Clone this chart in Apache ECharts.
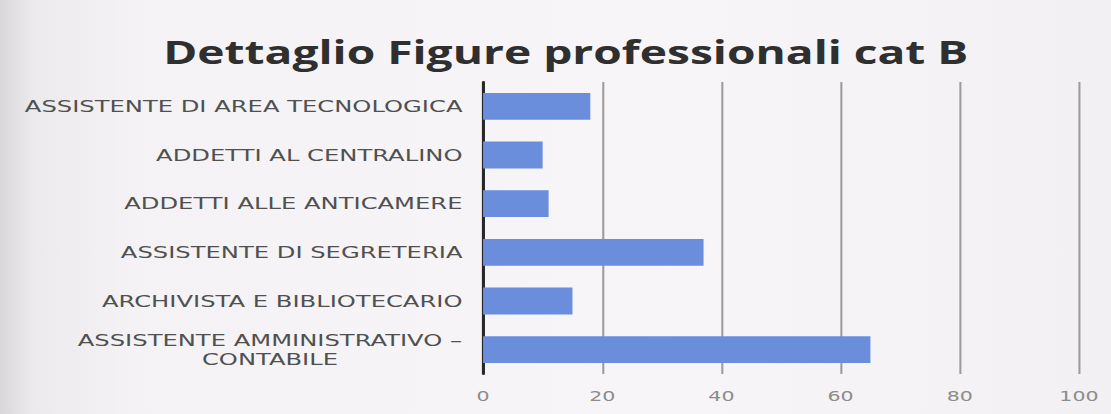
<!DOCTYPE html>
<html>
<head>
<meta charset="utf-8">
<script src="https://cdn.jsdelivr.net/npm/echarts@6/dist/echarts.min.js"></script>
<style>
html,body{margin:0;padding:0;overflow:hidden;background:#f5f3f5;}
#c{width:756px;height:414px;transform:scaleX(1.4696);transform-origin:0 0;}
</style>
</head>
<body>
<div id="c"></div>
<script>
const titleText = 'Dettaglio Figure professionali cat B';
const categories = [
  'ASSISTENTE AMMINISTRATIVO –\nCONTABILE',
  'ARCHIVISTA E BIBLIOTECARIO',
  'ASSISTENTE DI SEGRETERIA',
  'ADDETTI ALLE ANTICAMERE',
  'ADDETTI AL CENTRALINO',
  'ASSISTENTE DI AREA TECNOLOGICA'
];
const values = [65, 15, 37, 11, 10, 18];
const xTicks = { min: 0, max: 100, interval: 20 };

// The reference photo is stretched horizontally; the chart is laid out
// in a narrower box and stretched back to 1111px by CSS.
const LABEL_FONT = '16.5px "DejaVu Sans"';
const TITLE_FONT = 'bold 31.4px "Open Sans"';
const mctx = document.createElement('canvas').getContext('2d');
function textWidth(font, s) { mctx.font = font; return mctx.measureText(s).width; }

const titleW = textWidth(TITLE_FONT, titleText);

// width of the widest line of the multi-line labels (lines centred in that box)
let multiW = 0;
categories.forEach(c => {
  const ls = c.split('\n');
  if (ls.length > 1) ls.forEach(l => { multiW = Math.max(multiW, textWidth(LABEL_FONT, l)); });
});
multiW = Math.ceil(multiW);

function labelFormatter(v) {
  const lines = v.split('\n');
  if (lines.length === 1) return v;
  return lines.map(l => '{ml|' + l + '}').join('\n');
}

const chart = echarts.init(document.getElementById('c'), null, { renderer: 'svg' });
chart.setOption({
  backgroundColor: {
    type: 'linear', x: 0, y: 0, x2: 1, y2: 0,
    colorStops: [
      { offset: 0, color: '#d9d7d9' },
      { offset: 0.03, color: '#eceaec' },
      { offset: 0.12, color: '#f4f2f4' },
      { offset: 0.6, color: '#f7f5f7' },
      { offset: 1, color: '#f2f0f2' }
    ]
  },
  title: {
    text: titleText,
    left: Math.round(379.5 - titleW / 2),
    top: 32,
    textStyle: { fontFamily: 'Open Sans', fontWeight: 'bold', fontSize: 31.4, color: '#2f2f2f' }
  },
  grid: { left: 328.7, right: 21.8, top: 82, bottom: 40, containLabel: false },
  xAxis: {
    type: 'value',
    min: xTicks.min, max: xTicks.max, interval: xTicks.interval,
    axisLine: { show: false },
    axisTick: { show: false },
    splitLine: { show: true, lineStyle: { color: '#9c9c9c', width: 1.4 } },
    axisLabel: { fontFamily: 'DejaVu Sans', fontSize: 14, color: '#8c8c8c', margin: 15 }
  },
  yAxis: {
    type: 'category',
    data: categories,
    axisLine: { show: true, lineStyle: { color: '#262626', width: 2 } },
    axisTick: { show: false },
    axisLabel: {
      fontFamily: 'DejaVu Sans', fontSize: 16.5, color: '#505050', margin: 14,
      lineHeight: 19, align: 'right',
      formatter: labelFormatter,
      rich: {
        ml: { fontFamily: 'DejaVu Sans', fontSize: 16.5, color: '#505050', align: 'center', lineHeight: 19, width: multiW }
      }
    }
  },
  series: [{
    type: 'bar',
    data: values,
    barCategoryGap: '45%',
    itemStyle: { color: '#6a8edb' },
    silent: true
  }],
  animation: false
});
</script>
</body>
</html>
